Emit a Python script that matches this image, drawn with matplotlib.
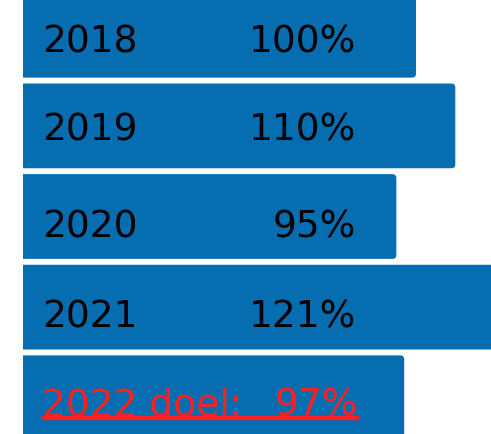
import matplotlib.pyplot as plt
from matplotlib.patches import FancyBboxPatch, Rectangle

# Data
years = ['2018', '2019', '2020', '2021', '2022 doel:']
percentages = [100, 110, 95, 121, 97]
label_shift = [0.03, 0.0, 0.07, 0.065, 0.03]  # small per-row text nudges (rows)

bar_color = '#066db1'
target_color = '#ff1f1f'

fig = plt.figure(figsize=(4.91, 4.35), dpi=100)
ax = fig.add_axes([0, 0, 1, 1])

# 1 unit on x is ~3.93 px, one row is ~91 px
ax.set_xlim(-23 / 3.93, (491 - 23) / 3.93)
ax.set_ylim(4.40, -0.40)
ax.axis('off')

bar_h = 0.935
aspect = (1 / 91) / (1 / 3.93)
r = 1.0

# clip everything left of zero so only the right corners are rounded
clip = Rectangle((0, -1), 500, 10, transform=ax.transData)

for i, val in enumerate(percentages):
    box = FancyBboxPatch((-2 * r, i - bar_h / 2), val + 2 * r, bar_h,
                         boxstyle=f'round,pad=0,rounding_size={r}',
                         mutation_aspect=aspect,
                         facecolor=bar_color, edgecolor='none')
    ax.add_patch(box)
    box.set_clip_path(clip)

fs = 27
last = len(years) - 1
for i, (yr, val) in enumerate(zip(years, percentages)):
    y = i + 0.152 + label_shift[i]
    col = target_color if i == last else 'black'
    t1 = ax.text(4.9, y, yr, fontsize=fs, color=col, ha='left', va='baseline')
    t2 = ax.text(85.2 if i == last else 84.8, y, f'{val}%', fontsize=fs,
                 color=col, ha='right', va='baseline')
    if i == last:
        # underline the target label
        fig.canvas.draw()
        inv = ax.transData.inverted()
        x0 = t1.get_window_extent().transformed(inv).x0
        x1 = t2.get_window_extent().transformed(inv).x1
        ax.plot([x0 - 0.3, x1 + 0.3], [y + 0.036, y + 0.036], color=target_color,
                lw=3.2, solid_capstyle='butt')

fig.savefig('out.png', dpi=100)
